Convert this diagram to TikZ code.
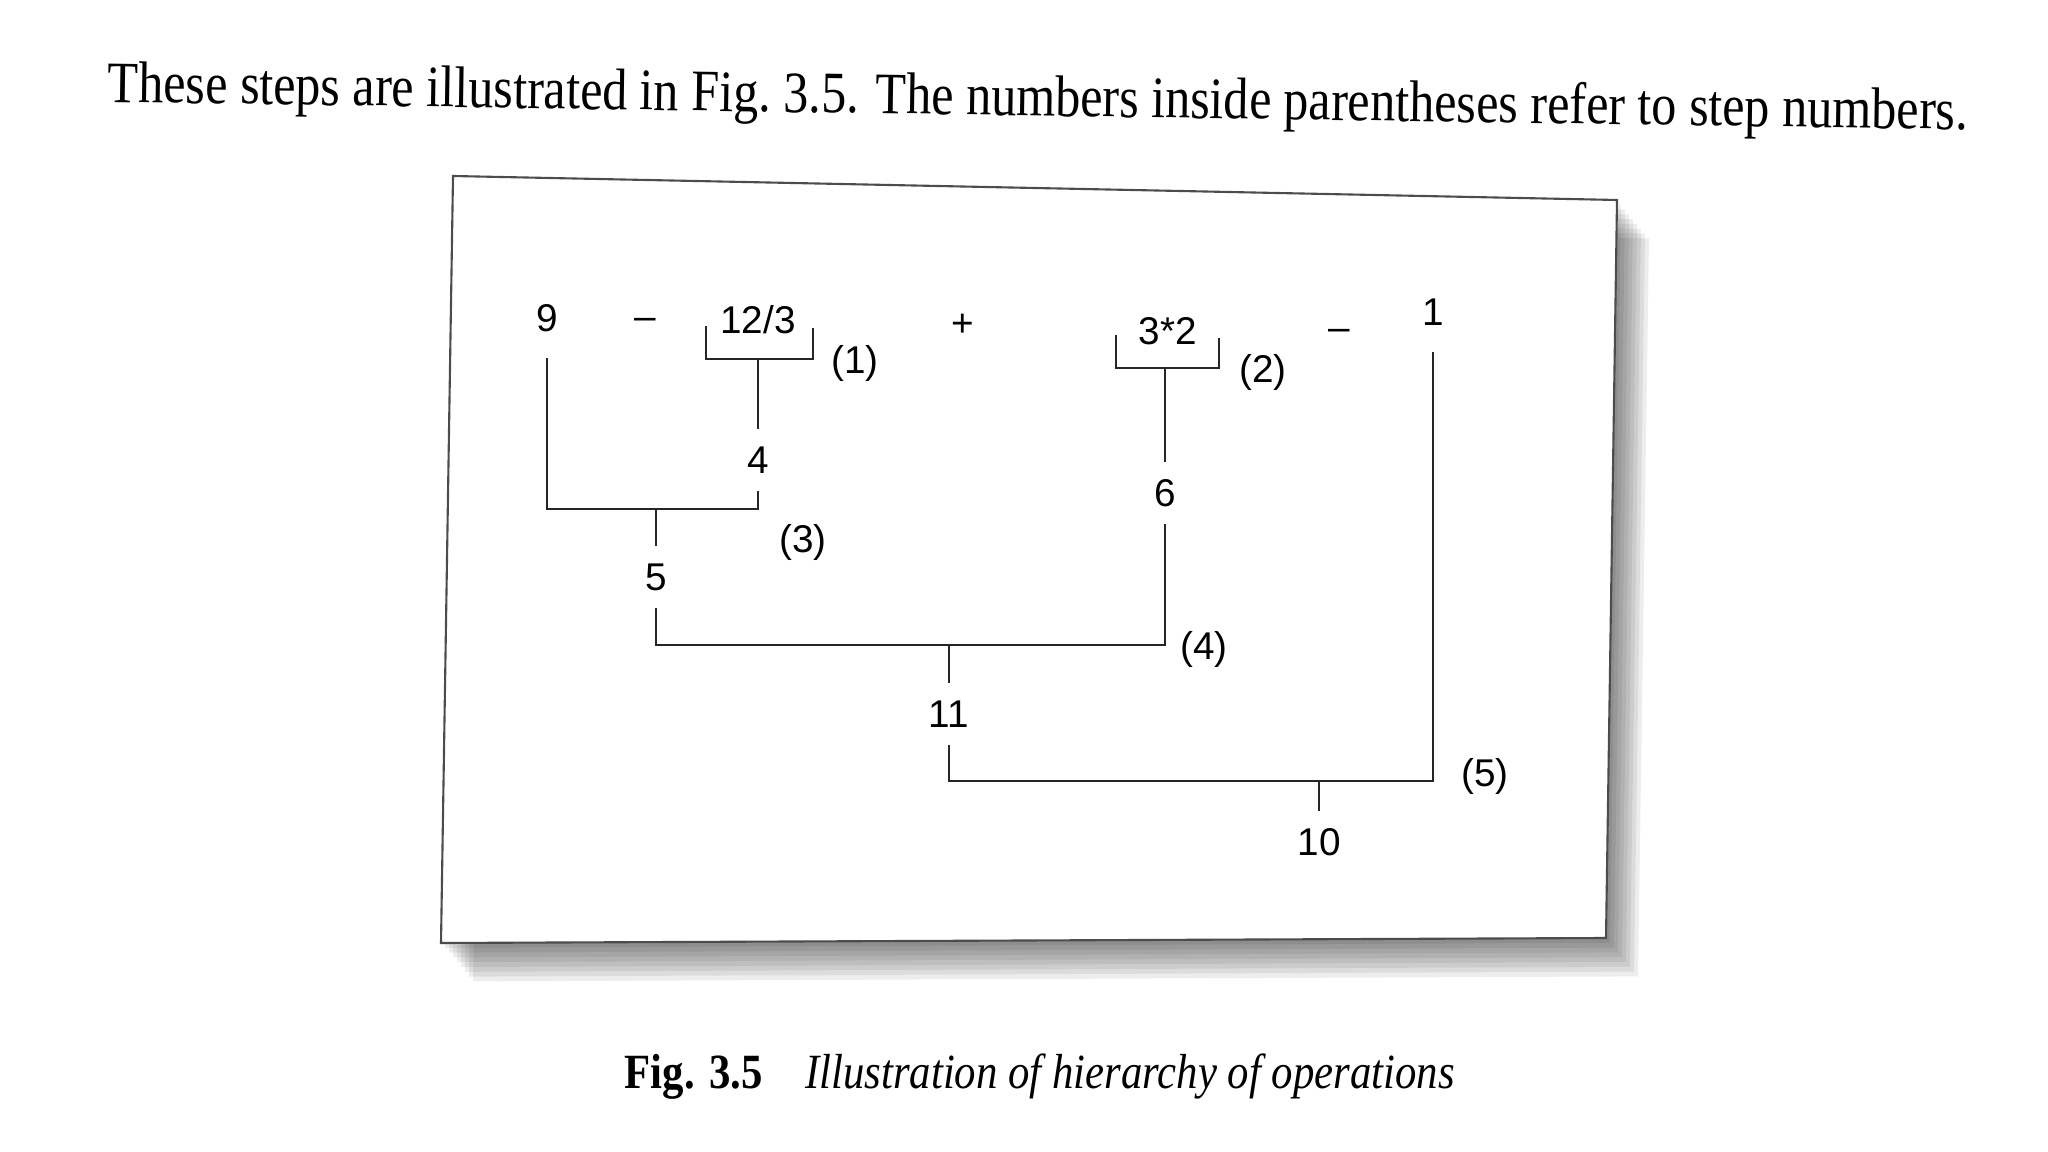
\documentclass[tikz,border=0pt]{standalone}
\usepackage{fontspec}
\setmainfont{Liberation Serif}
\newfontfamily\diagfont{Liberation Sans}
\usetikzlibrary{calc}

\begin{document}
\begin{tikzpicture}[
  x=.01cm,y=-.01cm,
  font=\diagfont\fontsize{11}{13}\selectfont,
  link/.style={black!85,line width=.6pt},
  operand/.style={inner xsep=1pt,inner ysep=7.5pt,outer sep=0pt},
  result/.style={inner xsep=1pt,inner ysep=5pt,outer sep=0pt},
  opsign/.style={inner sep=1pt},
  stepno/.style={inner sep=1pt},
  frame/.style={fill=white,draw=black!70,line width=.6pt}
]
\useasboundingbox (0,0) rectangle (2048,1152);
% soft shadow under the card
\foreach \d in {4,8,...,32}
  \fill[black,opacity=.07] (453+\d,176+1.2*\d) -- (1617+\d,200+1.2*\d)
    -- (1606+\d,938+1.2*\d) -- (441+\d,943+1.2*\d) -- cycle;
\draw[frame] (453,176) -- (1617,200) -- (1606,938) -- (441,943) -- cycle;
% the expression
\node[operand] (n9) at (547,318) {9};
\node[opsign] (minusA) at (645,324) {–};
\node (e12) at (758,320) {12/3};
\node[opsign] (plus) at (963,325) {+};
\node (e32) at (1168,331) {3*2};
\node[opsign] (minusB) at (1339,335) {–};
\node[operand] (n1) at (1433,312) {1};
% partial results
\node[result] (r4) at (758,460) {4};
\node[result] (r6) at (1165,493) {6};
\node[result] (r5) at (656,577) {5};
\node[result] (r11) at (949,714) {11};
\node[result] (r10) at (1319,842) {10};
% step numbers
\node[stepno] (s1) at (855,363) {(1)};
\node[stepno] (s2) at (1263,372) {(2)};
\node[stepno] (s3) at (803,542) {(3)};
\node[stepno] (s4) at (1204,649) {(4)};
\node[stepno] (s5) at (1485,776) {(5)};
% brackets and joins
\coordinate (b1l) at (706,326);
\coordinate (b1r) at (813,328);
\coordinate (b1m) at (758,359);
\coordinate (b2l) at (1116,335);
\coordinate (b2r) at (1219,338);
\coordinate (b2m) at (1165,368);
\coordinate (j3) at (656,509);
\coordinate (j4) at (949,645);
\coordinate (j5) at (1319,781);
\draw[link] (b1l) |- (b1m) -| (b1r);
\draw[link] (b1m) -- (r4.north);
\draw[link] (b2l) |- (b2m) -| (b2r);
\draw[link] (b2m) -- (r6.north);
\draw[link] (n9.south) |- (j3) -| (r4.south);
\draw[link] (j3) -- (r5.north);
\draw[link] (r5.south) |- (j4) -| (r6.south);
\draw[link] (j4) -- (r11.north);
\draw[link] (r11.south) |- (j5) -| (n1.south);
\draw[link] (j5) -- (r10.north);
% text above and caption below
\node[anchor=base west,rotate=-.85,inner sep=0pt,font=\rmfamily] (intro) at (107,102)
  {\resizebox{529pt}{\height}{\fontsize{16.7}{20}\selectfont These steps are illustrated in Fig.~3.5. The numbers inside parentheses refer to step numbers.}};
\node[anchor=base west,inner sep=0pt,font=\rmfamily] (caption) at (624,1088)
  {\resizebox{236pt}{\height}{\fontsize{14}{17}\selectfont\textbf{Fig. 3.5}\quad\textit{Illustration of hierarchy of operations}}};
\end{tikzpicture}
\end{document}
